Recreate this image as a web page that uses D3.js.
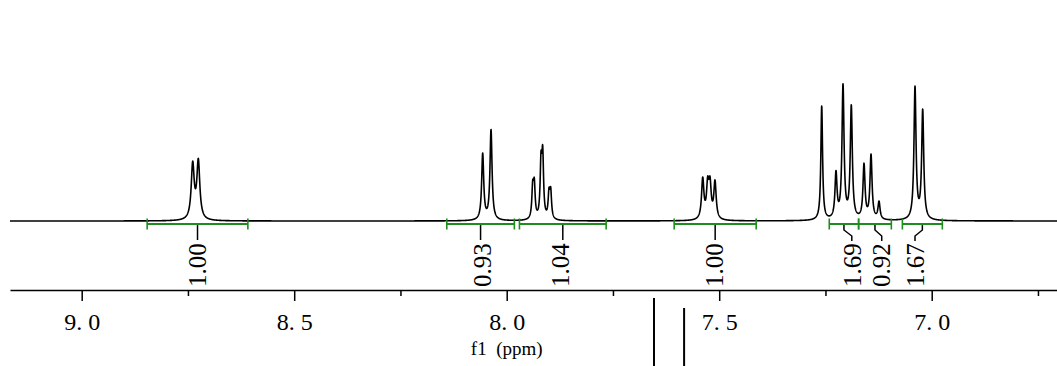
<!DOCTYPE html>
<html>
<head>
<meta charset="utf-8">
<script src="https://cdn.jsdelivr.net/npm/d3@7"></script>
<style>
  html, body { margin: 0; padding: 0; background: #fff; }
  svg { display: block; }
</style>
</head>
<body>
<svg id="chart" width="1057" height="366"></svg>
<script>
// ---------------- data ----------------
// x-axis ticks (ppm)
const majorTicks = [9.0, 8.5, 8.0, 7.5, 7.0];
const majorTickLabels = ["9. 0", "8. 5", "8. 0", "7. 5", "7. 0"];
const minorTicks = [8.75, 8.25, 7.75, 7.25, 6.75];
const axisTitle = "f1 (ppm)";

// resolved peaks: chemical shift (ppm), intensity (a.u.), half-width (ppm)
const peakPPM = [8.7388, 8.7256, 8.0565, 8.0369, 7.9388, 7.9351, 7.9193, 7.9153, 7.9005, 7.8965,
                 7.5388, 7.5271, 7.5216, 7.5099, 7.2588, 7.2252, 7.2087, 7.1892, 7.1593, 7.1428, 7.1240,
                 7.0393, 7.0212];
const peakHeight = [54.6, 57.6, 66, 90, 30, 32, 52, 60, 24, 26,
                    40, 32, 32, 37, 114, 45, 133, 112, 54, 64, 17.5,
                    132, 108.5];
const peakHWHM = [0.0042, 0.0042, 0.0029, 0.0029, 0.0024, 0.0024, 0.0024, 0.0024, 0.0024, 0.0024,
                  0.0033, 0.0033, 0.0033, 0.0033, 0.0024, 0.0029, 0.0029, 0.0029, 0.0029, 0.0029, 0.0029,
                  0.0029, 0.0029];

// integration regions
const integStart = [8.846, 8.141, 7.970, 7.606, 7.241, 7.172, 7.069];
const integEnd   = [8.609, 7.982, 7.766, 7.413, 7.172, 7.095, 6.975];
const integValue = ["1.00", "0.93", "1.04", "1.00", "1.69", "0.92", "1.67"];
const integLabelPPM = [8.7287, 8.0565, 7.8746, 7.5115, 7.188, 7.1176, 7.0393];

// stray cursor marks below the axis (ppm)
const cursorPPM = [7.6534, 7.5826];

// ---------------- drawing ----------------
const svg = d3.select("#chart");
const W = 1057, H = 366;

const x = d3.scaleLinear().domain([9.1687, 6.7052]).range([10, 1057]);
const y = d3.scaleLinear().domain([0, 150]).range([221, 71]);

// spectrum
function intensity(p) {
  let s = 0;
  for (let i = 0; i < peakPPM.length; i++) {
    const d = (p - peakPPM[i]) / peakHWHM[i];
    s += peakHeight[i] / (1 + d * d);
  }
  return s;
}
const pts = [];
const [d0, d1] = x.domain();
for (let p = d0; p >= d1; p -= 0.0003) pts.push([p, intensity(p)]);
pts.push([d1, intensity(d1)]);

svg.append("path")
  .datum(pts)
  .attr("fill", "none")
  .attr("stroke", "#000")
  .attr("stroke-width", 1.6)
  .attr("stroke-linejoin", "round")
  .attr("d", d3.line().x(d => x(d[0])).y(d => y(d[1])));

// integration bars
const green = "#1e8c1e";
const barY = 224;
const ig = svg.append("g");
integStart.forEach((s, i) => {
  const e = integEnd[i];
  ig.append("line").attr("x1", x(s)).attr("x2", x(e)).attr("y1", barY).attr("y2", barY)
    .attr("stroke", green).attr("stroke-width", 2);
  [s, e].forEach(v => {
    ig.append("line").attr("x1", x(v)).attr("x2", x(v)).attr("y1", barY - 5.5).attr("y2", barY + 5.5)
      .attr("stroke", green).attr("stroke-width", 1.6);
  });
  const tx = x((s + e) / 2), lx = x(integLabelPPM[i]);
  const path = Math.abs(tx - lx) < 3
    ? `M${tx},${barY + 1}V${barY + 16}`
    : `M${tx},${barY + 1}V${barY + 6}L${lx},${barY + 12}V${barY + 17}`;
  ig.append("path").attr("d", path).attr("fill", "none").attr("stroke", "#000").attr("stroke-width", 1.5);
  ig.append("text")
    .attr("transform", `translate(${lx},${barY + 63}) rotate(-90)`)
    .attr("dy", "0.35em")
    .attr("text-anchor", "start")
    .attr("font-family", "'Liberation Serif', 'Times New Roman', serif")
    .attr("font-size", 25)
    .attr("fill", "#000")
    .text(integValue[i]);
});

// axis
const axisY = 290;
const gAxis = svg.append("g").attr("transform", `translate(0,${axisY})`)
  .call(d3.axisBottom(x).tickValues(majorTicks)
    .tickFormat((d, i) => majorTickLabels[i])
    .tickSize(11).tickSizeOuter(0).tickPadding(12));
gAxis.select(".domain").attr("stroke", "#000").attr("stroke-width", 1.5);
gAxis.selectAll(".tick line").attr("stroke", "#000").attr("stroke-width", 1.5);
gAxis.selectAll(".tick text")
  .attr("font-family", "'Liberation Serif', 'Times New Roman', serif")
  .attr("font-size", 24).attr("fill", "#000");

const gMinor = svg.append("g").attr("transform", `translate(0,${axisY})`)
  .call(d3.axisBottom(x).tickValues(minorTicks).tickFormat("").tickSize(6).tickSizeOuter(0));
gMinor.select(".domain").remove();
gMinor.selectAll(".tick line").attr("stroke", "#000").attr("stroke-width", 1.5);

svg.append("text")
  .attr("x", x(8.0)).attr("y", 355)
  .attr("text-anchor", "middle")
  .attr("font-family", "'Liberation Serif', 'Times New Roman', serif")
  .attr("font-size", 19)
  .attr("xml:space", "preserve")
  .style("white-space", "pre")
  .attr("fill", "#000")
  .text(axisTitle.replace(" ", "  "));

// cursor marks
const cursorTop = [298, 308];
cursorPPM.forEach((p, i) => {
  svg.append("line").attr("x1", x(p)).attr("x2", x(p)).attr("y1", cursorTop[i]).attr("y2", H)
    .attr("stroke", "#000").attr("stroke-width", 2);
});
</script>
</body>
</html>
